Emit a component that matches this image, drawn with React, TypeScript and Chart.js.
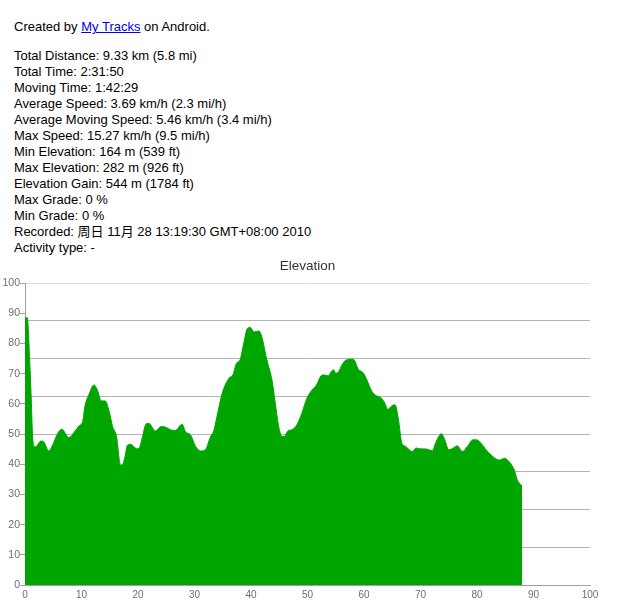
import React, { useEffect, useRef } from "react";
import { Chart, registerables } from "chart.js";

Chart.register(...registerables);

const distance = [
  0, 0.4, 0.8, 1.1, 1.35, 1.7, 2.0, 2.8, 3.3, 4.2, 4.9, 5.8, 6.5, 7.8, 8.7, 9.6,
  10.2, 10.6, 11.4, 12.2, 12.8, 13.5, 14.2, 14.9, 15.5, 16.2, 16.9, 17.2, 17.7,
  18.1, 18.7, 19.8, 20.2, 20.8, 21.4, 21.9, 23.1, 24.1, 24.9, 25.8, 26.6, 27.8,
  28.4, 29.3, 30.2, 31.1, 32.0, 32.8, 33.4, 34.0, 34.9, 36.1, 36.8, 37.4, 38.1,
  38.6, 39.4, 39.9, 40.5, 41.4, 41.9, 42.8, 43.7, 44.3, 44.9, 45.5, 45.9, 46.5,
  47.2, 48.1, 49.0, 49.9, 50.8, 51.6, 52.4, 52.9, 53.7, 54.2, 54.6, 55.0, 55.5,
  56.1, 56.9, 58.1, 59.0, 59.9, 60.5, 61.4, 62.2, 63.1, 63.7, 64.2, 64.9, 65.5,
  66.1, 66.7, 67.3, 68.2, 68.6, 69.2, 70.0, 70.6, 71.2, 72.1, 72.7, 73.7, 74.2,
  75.0, 75.9, 76.5, 77.4, 78.3, 79.3, 79.9, 80.7, 81.6, 82.5, 83.4, 84.0, 84.9,
  85.4, 86.0, 86.6, 87.1, 87.8, 88.0,
];

const elevation = [
  88.4, 88.6, 75.7, 62, 49, 45.8, 45.9, 47.7, 47.5, 44.4, 46.4, 50.3, 51.6, 48.8,
  50.6, 52.8, 54.1, 59.1, 63.5, 66.3, 64.6, 61, 61, 57.5, 52.5, 49.2, 39.8, 39.8,
  42.5, 46.2, 46.6, 45.1, 45.3, 49.2, 53.3, 53.6, 51, 52.5, 52.3, 51.4, 51.2,
  53.3, 50.8, 49.7, 45.9, 44.4, 45.0, 49.0, 51, 56, 63.5, 68.5, 69.6, 73.3, 74.8,
  79, 85.1, 85.3, 83.8, 84.2, 82.3, 74.6, 68, 60.2, 52.5, 49.2, 49.2, 51, 51.4,
  53, 56.9, 61.9, 64.6, 66.3, 69.3, 69.6, 69.3, 70.7, 71.3, 70.2, 70.7, 72.9,
  74.6, 74.8, 71.5, 70.2, 68, 64.1, 62.7, 61.9, 60.2, 58.2, 59.3, 59.7, 54.7,
  47, 46, 44.5, 44.2, 45.4, 45.1, 45.1, 45, 44.5, 47.2, 50.1, 48.6, 44.8, 45.5,
  46.1, 44.2, 45.9, 48.1, 48.1, 47, 44.8, 43.1, 41.7, 41.4, 42, 41.4, 40.1,
  38.1, 35, 33.1, 33,
];

const chartTitle = "Elevation";

const infoLines = [
  "Total Distance: 9.33 km (5.8 mi)",
  "Total Time: 2:31:50",
  "Moving Time: 1:42:29",
  "Average Speed: 3.69 km/h (2.3 mi/h)",
  "Average Moving Speed: 5.46 km/h (3.4 mi/h)",
  "Max Speed: 15.27 km/h (9.5 mi/h)",
  "Min Elevation: 164 m (539 ft)",
  "Max Elevation: 282 m (926 ft)",
  "Elevation Gain: 544 m (1784 ft)",
  "Max Grade: 0 %",
  "Min Grade: 0 %",
  "Recorded: 周日 11月 28 13:19:30 GMT+08:00 2010",
  "Activity type: -",
];

const GREEN = "rgb(0,166,0)";
const AXIS = "#a0a0a0";
const GRID = "#b4b4b4";
const GRID_TOP = "#dedede";
const LABEL = "#6e6e6e";
const FONT = "'Liberation Sans', Arial, sans-serif";

function ElevationChart() {
  const ref = useRef<HTMLCanvasElement | null>(null);
  useEffect(() => {
    if (!ref.current) return;
    const points = distance.map((d, i) => ({ x: d, y: elevation[i] }));
    const chart = new Chart(ref.current, {
      type: "line",
      data: {
        datasets: [
          {
            data: points,
            borderColor: GREEN,
            backgroundColor: GREEN,
            borderWidth: 1,
            fill: "origin",
            pointRadius: 0,
            cubicInterpolationMode: "monotone",
          },
        ],
      },
      options: {
        responsive: false,
        animation: false,
        events: [],
        layout: { padding: { left: 0, right: 35, top: 0, bottom: 0 } },
        plugins: {
          legend: { display: false },
          tooltip: { enabled: false },
          title: {
            display: true,
            fullSize: false,
            text: chartTitle,
            color: "#333333",
            font: { family: FONT, size: 13.5, weight: "normal" },
            padding: { top: 3, bottom: 9 },
          },
        },
        scales: {
          x: {
            type: "linear",
            min: 0,
            max: 100,
            ticks: {
              stepSize: 10,
              color: LABEL,
              padding: 4,
              maxRotation: 0,
              font: { family: FONT, size: 10 },
            },
            grid: { display: false, drawTicks: false },
            border: { display: true, color: AXIS, width: 1 },
            afterFit: (s: any) => {
              s.height = 20;
            },
          },
          y: {
            type: "linear",
            position: "left",
            min: 0,
            max: 100,
            ticks: {
              stepSize: 10,
              color: LABEL,
              padding: 0,
              font: { family: FONT, size: 10.5 },
            },
            grid: {
              drawOnChartArea: false,
              drawTicks: true,
              tickLength: 5,
              color: AXIS,
            },
            border: { display: true, color: AXIS, width: 1 },
            afterFit: (s: any) => {
              s.width = 25;
            },
          },
          yGrid: {
            type: "linear",
            position: "left",
            min: 0,
            max: 100,
            ticks: { display: false, stepSize: 12.5 },
            grid: {
              drawTicks: false,
              color: (ctx: any) =>
                ctx.tick && ctx.tick.value === 100 ? GRID_TOP : GRID,
            },
            border: { display: false },
            afterFit: (s: any) => {
              s.width = 0;
            },
          },
        },
      },
    });
    return () => chart.destroy();
  }, []);
  return (
    <canvas
      ref={ref}
      width={625}
      height={350}
      style={{ position: "absolute", left: 0, top: 255, width: 625, height: 350 }}
    />
  );
}

export default function App() {
  const textStyle: React.CSSProperties = {
    fontFamily: "'Liberation Sans', Arial, 'Noto Sans CJK SC', sans-serif",
    fontSize: 13,
    lineHeight: "16px",
    color: "#000",
  };
  return (
    <div>
      <div style={{ ...textStyle, paddingLeft: 6, paddingTop: 11 }}>
        <div>
          Created by{" "}
          <a href="#" style={{ color: "#0000ee", textDecoration: "underline" }}>
            My Tracks
          </a>{" "}
          on Android.
        </div>
        <div style={{ marginTop: 13 }}>
          {infoLines.map((l, i) => (
            <div key={i}>{l}</div>
          ))}
        </div>
      </div>
      <ElevationChart />
    </div>
  );
}
